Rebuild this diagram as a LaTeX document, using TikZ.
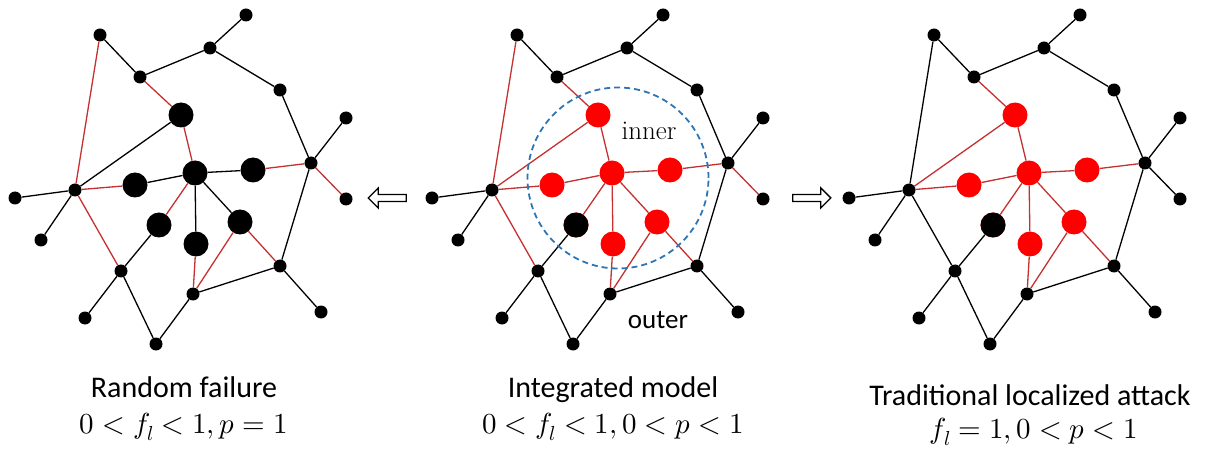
\documentclass[tikz,border=0pt]{standalone}
\usepackage{fontspec}
\usepackage{unicode-math}
\setmathfont{Latin Modern Math}
\newfontfamily\captionfont{Carlito}
\usetikzlibrary{backgrounds, shapes.arrows}

\definecolor{linkred}{RGB}{198,48,48}
\definecolor{zoneblue}{RGB}{46,117,182}

% node positions of the network (pixels, middle panel)
\def\smallnodes{a/517/35, b/557/77, c/627/48, d/663/15, e/697/90, f/728/163,
	g/763/118, h/763/199, i/697/266, j/738/312, k/610/294, l/573/344,
	m/538/271, n/502/318, o/492/190, p/432/198, q/458/240}
\def\bignodes{t/598/115, z/612/173, w/552/185, x/670/170, s/576/225, u/613/244, v/657/222}
% links that look the same in all three panels
\def\blacklinks{a/b, b/c, c/d, c/e, e/f, f/g, f/i, i/j, i/k, k/l, l/m, m/n, m/s, o/p, o/q}
\def\redlinks{b/t, t/z, o/w, x/f, z/s, u/k, v/k, v/i}

\begin{document}
\begin{tikzpicture}[
			x=1pt, y=-1pt,
			% Styles for the nodes
			hub/.style={circle, fill=black, inner sep=0pt, minimum size=13pt},
			bigblk/.style={circle, fill=black, inner sep=0pt, minimum size=25pt},
			bigred/.style={bigblk, fill=red},
			% Styles for the links
			link/.style={line width=1.3pt, black},
			redlink/.style={line width=1.3pt, linkred},
			% Dashed attack zone
			zone/.style={circle, draw=zoneblue, dash pattern=on 6pt off 4pt, line width=1.8pt, minimum size=181pt, inner sep=0pt},
			% Hollow block arrows between panels
			shiftarrow/.style={single arrow, draw, line width=1.4pt, fill=white, inner xsep=0pt, inner ysep=2.8pt,
				minimum height=38pt, single arrow head extend=6.5pt},
			% Title & Text
			caption/.style={font=\captionfont\fontsize{30}{36}\selectfont, anchor=base},
			formula/.style={font=\fontsize{29}{34}\selectfont, anchor=base}
			]
			\useasboundingbox (0,0) rectangle (1207,454);
			
			% ==============================================================================
			% LEFT: Random failure
			% ==============================================================================
			\begin{scope}[xshift=-417pt]
				\foreach \n/\x/\y in \smallnodes \node[hub] (L-\n) at (\x,\y) {};
				\foreach \n/\x/\y in \bignodes \node[bigblk] (L-\n) at (\x,\y) {};
				\begin{scope}[on background layer]
					\foreach \p/\q in \blacklinks \draw[link] (L-\p) -- (L-\q);
					\foreach \p/\q in {o/t, w/z, z/x, z/u, z/v} \draw[link] (L-\p) -- (L-\q);
					\foreach \p/\q in \redlinks \draw[redlink] (L-\p) -- (L-\q);
					\foreach \p/\q in {a/o, f/h, o/m} \draw[redlink] (L-\p) -- (L-\q);
				\end{scope}
			\end{scope}
			\node[caption] (L-title) at (184,397) {Random failure};
			\node[formula] (L-cond) at (184,433) {$0<f_l<1, p=1$};
			
			% Arrow back to the left
			\node[shiftarrow, shape border rotate=180] (toleft) at (389,198) {};
			
			% ==============================================================================
			% MIDDLE: Integrated model
			% ==============================================================================
			\node[zone] (region) at (618,178) {};
			\foreach \n/\x/\y in \smallnodes \node[hub] (M-\n) at (\x,\y) {};
			\foreach \n/\x/\y in \bignodes \node[bigred] (M-\n) at (\x,\y) {};
			\node[bigblk] at (M-s) {}; % survives the attack
			\begin{scope}[on background layer]
				\foreach \p/\q in \blacklinks \draw[link] (M-\p) -- (M-\q);
				\foreach \p/\q in \redlinks \draw[redlink] (M-\p) -- (M-\q);
				\foreach \p/\q in {o/t, w/z, z/x, z/u, z/v, a/o, f/h, o/m} \draw[redlink] (M-\p) -- (M-\q);
			\end{scope}
			\node[anchor=base, font=\fontsize{27}{32}\selectfont] (inner) at (649,140) {inner};
			\node[caption, font=\captionfont\fontsize{27}{32}\selectfont] (outer) at (658,328) {outer};
			\node[caption] (M-title) at (613,397) {Integrated model};
			\node[formula] (M-cond) at (613,433) {$0<f_l<1, 0<p<1$};
			
			% Arrow on to the right
			\node[shiftarrow] (toright) at (810,198) {};
			
			% ==============================================================================
			% RIGHT: Traditional localized attack
			% ==============================================================================
			\begin{scope}[xshift=417pt]
				\foreach \n/\x/\y in \smallnodes \node[hub] (R-\n) at (\x,\y) {};
				\foreach \n/\x/\y in \bignodes \node[bigred] (R-\n) at (\x,\y) {};
				\node[bigblk] at (R-s) {};
				\begin{scope}[on background layer]
					\foreach \p/\q in \blacklinks \draw[link] (R-\p) -- (R-\q);
					\foreach \p/\q in {a/o, f/h, o/m} \draw[link] (R-\p) -- (R-\q);
					\foreach \p/\q in \redlinks \draw[redlink] (R-\p) -- (R-\q);
					\foreach \p/\q in {o/t, w/z, z/x, z/u, z/v} \draw[redlink] (R-\p) -- (R-\q);
				\end{scope}
			\end{scope}
			\node[caption] (R-title) at (1030,405) {Traditional localized attack};
			\node[formula] (R-cond) at (1034,438) {$f_l=1, 0<p<1$};
			
		\end{tikzpicture}
\end{document}
